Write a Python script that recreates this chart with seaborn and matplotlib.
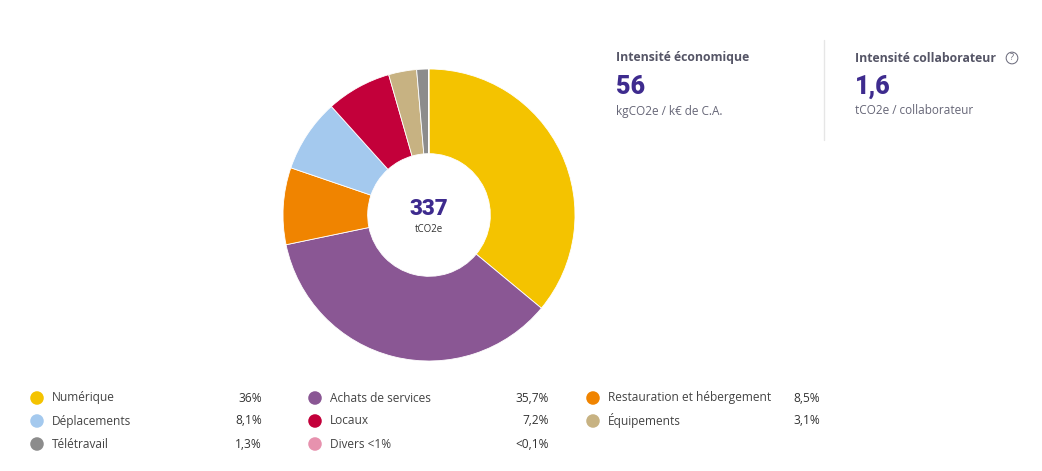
import matplotlib
matplotlib.use("Agg")
import matplotlib.pyplot as plt
import seaborn as sns
import pandas as pd

# slice data, clockwise from 12 o'clock
categories = ["Numérique", "Achats de services", "Restauration et hébergement",
              "Déplacements", "Locaux", "Équipements", "Télétravail", "Divers <1%"]
shares = [36.0, 35.7, 8.5, 8.1, 7.2, 3.1, 1.3, 0.05]
share_labels = ["36%", "35,7%", "8,5%", "8,1%", "7,2%", "3,1%", "1,3%", "<0,1%"]
colors = ["#F4C300", "#8A5794", "#F08400", "#A4C9EE", "#C3003A", "#C7B282", "#8C8C8C", "#E792AE"]

# legend layout order (row-major, 3 columns)
legend_order = ["Numérique", "Achats de services", "Restauration et hébergement",
                "Déplacements", "Locaux", "Équipements",
                "Télétravail", "Divers <1%"]

total = "337"
total_unit = "tCO2e"
kpi_titles = ["Intensité économique", "Intensité collaborateur"]
kpi_values = ["56", "1,6"]
kpi_units = ["kgCO2e / k€ de C.A.", "tCO2e / collaborateur"]

sns.set_theme(style="white")
plt.rcParams["font.family"] = ["Open Sans", "DejaVu Sans"]

W, H = 1042, 471
fig = plt.figure(figsize=(W / 100, H / 100), dpi=100)
fig.patch.set_facecolor("white")

def fx(x):
    return x / W

def fy(y):
    return 1 - y / H

# donut
cx, cy, r = 429, 215, 146
ax = fig.add_axes([fx(cx - r), fy(cy + r), 2 * r / W, 2 * r / H])
ax.pie(shares, colors=colors, startangle=90, counterclock=False, radius=1,
       wedgeprops=dict(width=0.58, edgecolor="white", linewidth=0.6))
ax.set_xlim(-1, 1)
ax.set_ylim(-1, 1)
ax.set_aspect("equal")
ax.axis("off")

purple = "#3E2B8E"
fig.text(fx(cx), fy(209), total, ha="center", va="center", fontsize=16,
         fontweight="heavy", color=purple, family=["Roboto", "DejaVu Sans"])
fig.text(fx(cx), fy(229), total_unit, ha="center", va="center", fontsize=7, color="#333333")

# KPI block
for i, x0 in enumerate([616, 855]):
    fig.text(fx(x0), fy(58), kpi_titles[i], ha="left", va="center", fontsize=8.8,
             fontweight="bold", color="#555566")
    fig.text(fx(x0), fy(87), kpi_values[i], ha="left", va="center", fontsize=18,
             fontweight="heavy", color=purple, family=["Roboto", "DejaVu Sans"])
    fig.text(fx(x0), fy(111), kpi_units[i], ha="left", va="center", fontsize=8.5, color="#666677")
fig.text(fx(1012), fy(58), "?", ha="center", va="center", fontsize=6.5, color="#666677",
         bbox=dict(boxstyle="circle,pad=0.15", fc="white", ec="#666677", lw=0.7))
fig.add_artist(plt.Line2D([fx(824), fx(824)], [fy(40), fy(140)], color="#E6E6E6", lw=1))

# legend
lax = fig.add_axes([0, 0, 1, 1], facecolor="none")
lax.set_xlim(0, W)
lax.set_ylim(H, 0)
lax.axis("off")
col_dot = [37, 315, 593]
col_val = [262, 549, 820]
row_y = [398, 421, 444]
rows = []
for k, name in enumerate(legend_order):
    i = categories.index(name)
    c, rr = k % 3, k // 3
    rows.append(dict(x=col_dot[c], y=row_y[rr], name=name, color=colors[i],
                     label=share_labels[i], vx=col_val[c]))
leg = pd.DataFrame(rows)
sns.scatterplot(data=leg, x="x", y="y", hue="name", palette=dict(zip(leg["name"], leg["color"])),
                s=95, linewidth=0, legend=False, ax=lax)
for _, row in leg.iterrows():
    lax.text(row["x"] + 15, row["y"], row["name"], ha="left", va="center",
             fontsize=8.6, color="#444444")
    lax.text(row["vx"], row["y"], row["label"], ha="right", va="center",
             fontsize=8.6, color="#333333", fontweight="medium")

fig.savefig("out.png", dpi=100, facecolor="white")
